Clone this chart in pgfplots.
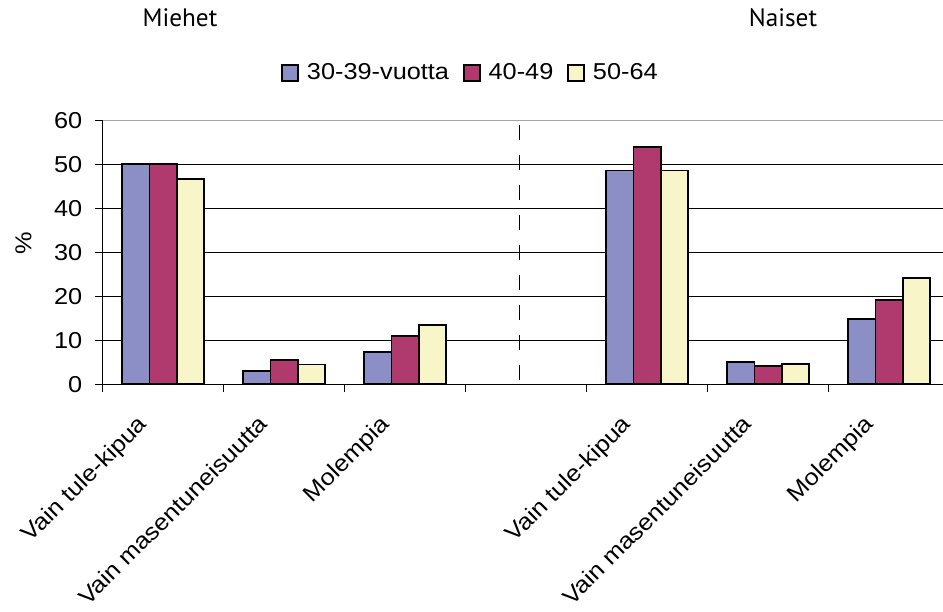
\documentclass[border=0pt]{standalone}
\usepackage{fontspec}
\usepackage{pgfplots}
\pgfplotsset{compat=1.18}
\setmainfont[FakeStretch=1.1]{Liberation Sans}
\newfontfamily\titlefont{PT Sans}
\definecolor{cblue}{RGB}{140,143,198}
\definecolor{cmag}{RGB}{176,58,110}
\definecolor{cyel}{RGB}{248,246,200}
\begin{document}
\begin{tikzpicture}[x=1pt,y=1pt]
\begin{axis}[
  at={(51.35pt,113.35pt)}, anchor=south west,
  scale only axis, width=423.5pt, height=132pt,
  xmin=0, xmax=7, ymin=0, ymax=60,
  axis x line*=bottom, axis y line*=left,
  axis line style={line width=0.6pt, black},
  ybar=0pt, bar width=13.65pt,
  ytick={0,10,...,60},
  ymajorgrids, grid style={black, line width=0.5pt},
  xtick={0.5,1.5,2.5,4.5,5.5,6.5},
  xticklabels={Vain tule-kipua,Vain masentuneisuutta,Molempia,Vain tule-kipua,Vain masentuneisuutta,Molempia},
  minor xtick={0,1,2,3,4,5,6,7},
  tick align=outside,
  major x tick style={draw=none},
  minor tick length=4pt, major tick length=4pt,
  tick style={black, line width=0.5pt},
  x tick label style={xshift=-13.5pt, yshift=-10.5pt, rotate=45, anchor=north east, inner sep=0pt},
  y tick label style={inner sep=0pt, xshift=-6pt},
  /pgf/number format/assume math mode=true,
  ticklabel style={font=\fontsize{11.5}{13}\selectfont},
  legend style={draw=none, fill=none, inner sep=0pt, at={(0.2105,1.179)}, anchor=west,
    legend columns=-1, font=\fontsize{11.5}{13}\selectfont,
    /tikz/every odd column/.append style={column sep=2pt},
    /tikz/every even column/.append style={column sep=5pt}},
  legend image code/.code={\draw[#1, line width=0.8pt] (0pt,-4pt) rectangle (8pt,4pt);},
]
\addplot[fill=cblue, draw=black, line width=0.9pt] coordinates {(0.5,50) (1.5,3.1) (2.5,7.3) (4.5,48.6) (5.5,5.0) (6.5,14.9)};
\addplot[fill=cmag, draw=black, line width=0.9pt] coordinates {(0.5,50) (1.5,5.45) (2.5,10.9) (4.5,54) (5.5,4.2) (6.5,19.1)};
\addplot[fill=cyel, draw=black, line width=0.9pt] coordinates {(0.5,46.7) (1.5,4.5) (2.5,13.5) (4.5,48.6) (5.5,4.6) (6.5,24.1)};
\legend{30-39-vuotta,40-49,50-64}
\draw[gray!70, line width=0.8pt] (axis cs:0,60) -- (axis cs:7,60);
\draw[black, line width=0.8pt, dash pattern=on 7.3pt off 7.7pt] (axis cs:3.446,58.9) -- (axis cs:3.446,0);
\end{axis}
\node[rotate=90, font=\fontsize{11.5}{13}\selectfont] at (11.7pt,184pt) {\%};
\node[font=\titlefont\fontsize{12.6}{14}\selectfont, anchor=base] at (90pt,292.2pt) {Miehet};
\node[font=\titlefont\fontsize{12.6}{14}\selectfont, anchor=base] at (391.5pt,292.2pt) {Naiset};
\pgfresetboundingbox
\useasboundingbox (0,0) rectangle (471.5pt,305.5pt);
\end{tikzpicture}
\end{document}
